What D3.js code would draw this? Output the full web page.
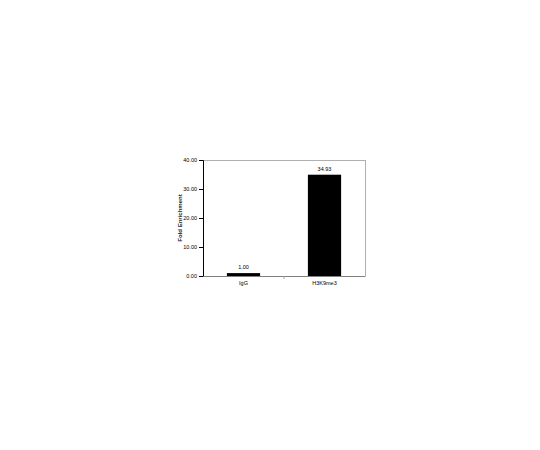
<!DOCTYPE html>
<html>
<head>
<meta charset="utf-8">
<script src="https://cdn.jsdelivr.net/npm/d3@7"></script>
<style>
  body { margin: 0; background: #fff; }
  svg { font-family: 'Liberation Sans', Arial, sans-serif; }
</style>
</head>
<body>
<div class="graphic_container"></div>
<script>
// chart data
const categories = ['IgG', 'H3K9me3'];
const foldValues = [1.00, 34.93];
const yTicks = [0, 10, 20, 30, 40];
const yLabel = 'Fold Enrichment';

const width = 540, height = 450;
const plot = { left: 203, right: 365, top: 160, bottom: 276 };

const svg = d3.select('.graphic_container')
  .append('svg')
  .attr('width', width)
  .attr('height', height);

const x = d3.scaleBand()
  .domain(categories)
  .range([plot.left, plot.right])
  .paddingInner(0.59)
  .paddingOuter(0.295);

const y = d3.scaleLinear()
  .domain([0, 40])
  .range([plot.bottom, plot.top]);

// frame: top and right lines are light grey
svg.append('line')
  .attr('x1', plot.left).attr('x2', plot.right)
  .attr('y1', plot.top + 0.5).attr('y2', plot.top + 0.5)
  .style('stroke', '#b0b0b0');
svg.append('line')
  .attr('x1', plot.right + 0.5).attr('x2', plot.right + 0.5)
  .attr('y1', plot.top).attr('y2', plot.bottom)
  .style('stroke', '#b0b0b0');

// bars
svg.selectAll('.bar')
  .data(foldValues)
  .enter()
  .append('rect')
  .attr('class', 'bar')
  .attr('x', (d, i) => x(categories[i]))
  .attr('y', d => y(d))
  .attr('width', x.bandwidth())
  .attr('height', d => y(0) - y(d))
  .style('fill', '#000');

// value labels
svg.selectAll('.valueLabel')
  .data(foldValues)
  .enter()
  .append('text')
  .attr('class', 'valueLabel')
  .attr('x', (d, i) => x(categories[i]) + x.bandwidth() / 2)
  .attr('y', d => y(d) - 4)
  .attr('text-anchor', 'middle')
  .style('font-size', '5.5px')
  .text(d => d3.format('.2f')(d));

// y axis
const yAxis = svg.append('g')
  .attr('transform', `translate(${plot.left},0)`)
  .call(d3.axisLeft(y).tickValues(yTicks).tickFormat(d3.format('.2f')).tickSize(4).tickPadding(2));
yAxis.selectAll('text').style('font-size', '5.5px').style('font-family', 'Liberation Sans, Arial, sans-serif');
yAxis.selectAll('path, line').style('stroke', '#000');

// x axis
const xAxis = svg.append('g')
  .attr('transform', `translate(0,${plot.bottom})`)
  .call(d3.axisBottom(x).tickSize(0).tickPadding(5).tickSizeOuter(0));
xAxis.selectAll('text').style('font-size', '5.5px').style('font-family', 'Liberation Sans, Arial, sans-serif');
xAxis.select('.domain').style('stroke', '#808080');

// small separator tick between the two categories
const sepX = x(categories[1]) - x.step() * x.paddingInner() / 2;
xAxis.append('line')
  .attr('x1', sepX).attr('x2', sepX)
  .attr('y1', 0).attr('y2', 3)
  .style('stroke', '#a0a0a0');

// y label
svg.append('text')
  .attr('transform', `translate(${plot.left - 21},${(plot.top + plot.bottom) / 2}) rotate(-90)`)
  .attr('text-anchor', 'middle')
  .style('font-size', '6px')
  .style('font-weight', 'bold')
  .style('fill', '#222')
  .text(yLabel);
</script>
</body>
</html>
